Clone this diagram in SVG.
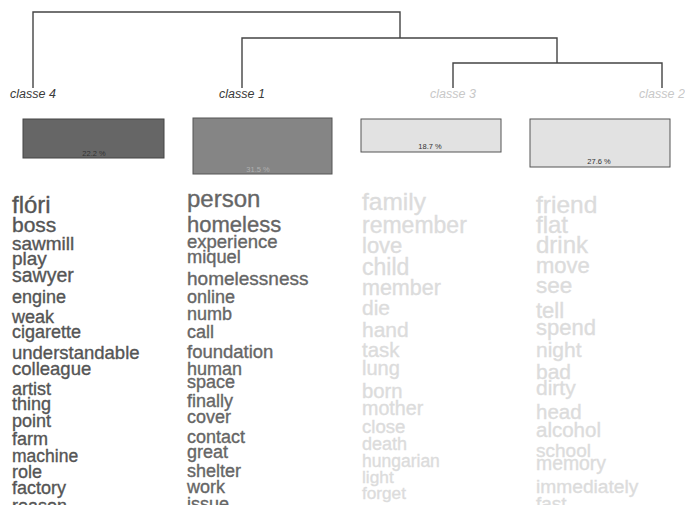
<svg xmlns="http://www.w3.org/2000/svg" width="685" height="505" viewBox="0 0 685 505">
<style>
.den{fill:none;stroke:#444;stroke-width:1.4}
.lbl{font-family:"Liberation Sans",Arial,sans-serif;font-size:12.5px;font-style:italic;text-anchor:middle}
.dark{fill:#3a3a3a}
.light{fill:#c8c8c8}
.pct{font-family:"Liberation Sans",Arial,sans-serif;font-size:7.5px;text-anchor:middle;fill:#333}
.w{font-family:"Liberation Sans",Arial,sans-serif;stroke-width:0.35}
.c4{fill:#555;stroke:#555}
.c1{fill:#666;stroke:#666}
.c3{fill:#dcdcdc;stroke:#dcdcdc}
.c2{fill:#dcdcdc;stroke:#dcdcdc}
</style>
<rect width="685" height="505" fill="#fff"/>
<g id="connectors">
<path class="den" d="M33,88 V12 H400 V38"/>
<path class="den" d="M242,88 V38 H557 V63"/>
<path class="den" d="M453,88 V63 H662 V88"/>
</g>
<g id="classe4">
<text class="lbl dark" x="33" y="98">classe  4</text>
<rect x="23" y="119" width="141" height="39" fill="#666" stroke="#444" stroke-width="1"/>
<text class="pct" x="94" y="156">22.2 %</text>
<g class="w c4">
<text x="12" y="213" font-size="24">flóri</text>
<text x="12" y="232" font-size="21">boss</text>
<text x="12" y="250" font-size="19">sawmill</text>
<text x="12" y="265" font-size="19">play</text>
<text x="12" y="282" font-size="19.5">sawyer</text>
<text x="12" y="303" font-size="18">engine</text>
<text x="12" y="323" font-size="18">weak</text>
<text x="12" y="338" font-size="18">cigarette</text>
<text x="12" y="359" font-size="18.5">understandable</text>
<text x="12" y="375" font-size="18.5">colleague</text>
<text x="12" y="395" font-size="18">artist</text>
<text x="12" y="410" font-size="18">thing</text>
<text x="12" y="427" font-size="18">point</text>
<text x="12" y="445" font-size="18">farm</text>
<text x="12" y="462" font-size="17.5">machine</text>
<text x="12" y="478" font-size="18">role</text>
<text x="12" y="494" font-size="18">factory</text>
<text x="12" y="512" font-size="18">reason</text>
</g>
</g>
<g id="classe1">
<text class="lbl dark" x="242" y="98">classe  1</text>
<rect x="193" y="118" width="139" height="56" fill="#858585" stroke="#555" stroke-width="1"/>
<text class="pct" x="258" y="172" style="fill:#b0b0b0">31.5 %</text>
<g class="w c1">
<text x="187" y="207" font-size="24">person</text>
<text x="187" y="232" font-size="22">homeless</text>
<text x="187" y="248" font-size="18.5">experience</text>
<text x="187" y="263" font-size="18.3">miquel</text>
<text x="187" y="285" font-size="19">homelessness</text>
<text x="187" y="303" font-size="18">online</text>
<text x="187" y="320" font-size="18">numb</text>
<text x="187" y="338" font-size="18">call</text>
<text x="187" y="358" font-size="18.5">foundation</text>
<text x="187" y="375" font-size="18">human</text>
<text x="187" y="388" font-size="18">space</text>
<text x="187" y="407" font-size="18">finally</text>
<text x="187" y="423" font-size="18">cover</text>
<text x="187" y="443" font-size="18">contact</text>
<text x="187" y="458" font-size="18">great</text>
<text x="187" y="477" font-size="18">shelter</text>
<text x="187" y="493" font-size="18">work</text>
<text x="187" y="510" font-size="18">issue</text>
</g>
</g>
<g id="classe3">
<text class="lbl light" x="453" y="98">classe  3</text>
<rect x="361" y="119" width="140" height="33" fill="#e2e2e2" stroke="#555" stroke-width="1"/>
<text class="pct" x="430" y="149">18.7 %</text>
<g class="w c3">
<text x="362" y="210" font-size="24.5">family</text>
<text x="362" y="233" font-size="23">remember</text>
<text x="362" y="253" font-size="22">love</text>
<text x="362" y="275" font-size="23">child</text>
<text x="362" y="295" font-size="21.5">member</text>
<text x="362" y="315" font-size="21">die</text>
<text x="362" y="337" font-size="21">hand</text>
<text x="362" y="357" font-size="20.4">task</text>
<text x="362" y="375" font-size="20">lung</text>
<text x="362" y="398" font-size="20.3">born</text>
<text x="362" y="415" font-size="19.7">mother</text>
<text x="362" y="433" font-size="18.6">close</text>
<text x="362" y="450" font-size="18">death</text>
<text x="362" y="467" font-size="17.5">hungarian</text>
<text x="362" y="483" font-size="17.3">light</text>
<text x="362" y="499" font-size="17.2">forget</text>
</g>
</g>
<g id="classe2">
<text class="lbl light" x="662" y="98">classe  2</text>
<rect x="530" y="119" width="140" height="48" fill="#e2e2e2" stroke="#555" stroke-width="1"/>
<text class="pct" x="599" y="164">27.6 %</text>
<g class="w c2">
<text x="536" y="213" font-size="24.5">friend</text>
<text x="536" y="233" font-size="24">flat</text>
<text x="536" y="253" font-size="24">drink</text>
<text x="536" y="273" font-size="22">move</text>
<text x="536" y="293" font-size="22.5">see</text>
<text x="536" y="318" font-size="22">tell</text>
<text x="536" y="335" font-size="22">spend</text>
<text x="536" y="357" font-size="21">night</text>
<text x="536" y="379" font-size="21">bad</text>
<text x="536" y="395" font-size="21">dirty</text>
<text x="536" y="419" font-size="20.5">head</text>
<text x="536" y="437" font-size="20.5">alcohol</text>
<text x="536" y="457" font-size="19">school</text>
<text x="536" y="470" font-size="19.4">memory</text>
<text x="536" y="493" font-size="19.2">immediately</text>
<text x="536" y="510" font-size="19">fast</text>
</g>
</g>
</svg>
